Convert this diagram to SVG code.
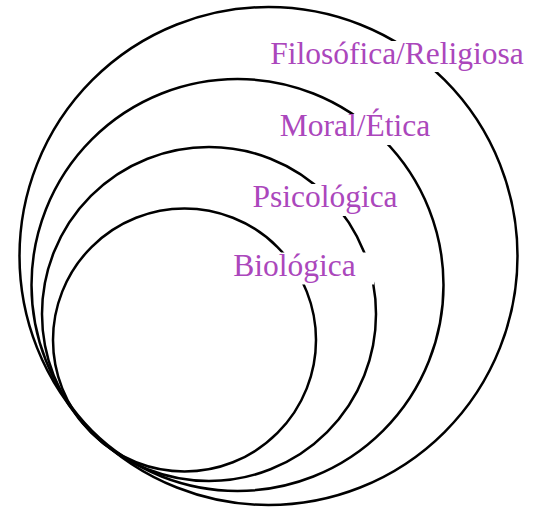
<svg xmlns="http://www.w3.org/2000/svg" width="533" height="511" viewBox="0 0 533 511">
<style>
.ring{fill:none;stroke:#000;stroke-width:2.5}
.bg{fill:#fff}
.lbl{font-family:"Liberation Serif","Times New Roman",serif;font-size:31.5px;fill:#AB47BC;text-anchor:middle}
</style>
<rect width="533" height="511" fill="#fff"/>
<g id="filosofica">
<circle class="ring" cx="268.5" cy="256" r="249"/>
<rect class="bg" x="252" y="41" width="281" height="31"/>
<text class="lbl" x="397" y="64">Filosófica/Religiosa</text>
</g>
<g id="moral">
<circle class="ring" cx="237.5" cy="285" r="206"/>
<rect class="bg" x="262" y="114" width="185" height="31"/>
<text class="lbl" x="355" y="136">Moral/Ética</text>
</g>
<g id="psicologica">
<circle class="ring" cx="209" cy="314" r="167"/>
<rect class="bg" x="235" y="184" width="180" height="32"/>
<text class="lbl" x="325" y="207">Psicológica</text>
</g>
<g id="biologica">
<circle class="ring" cx="184.5" cy="340" r="131.5"/>
<rect class="bg" x="216" y="252.5" width="158" height="32"/>
<text class="lbl" x="294.5" y="275.5">Biológica</text>
</g>
<g id="connectors"></g>
</svg>
